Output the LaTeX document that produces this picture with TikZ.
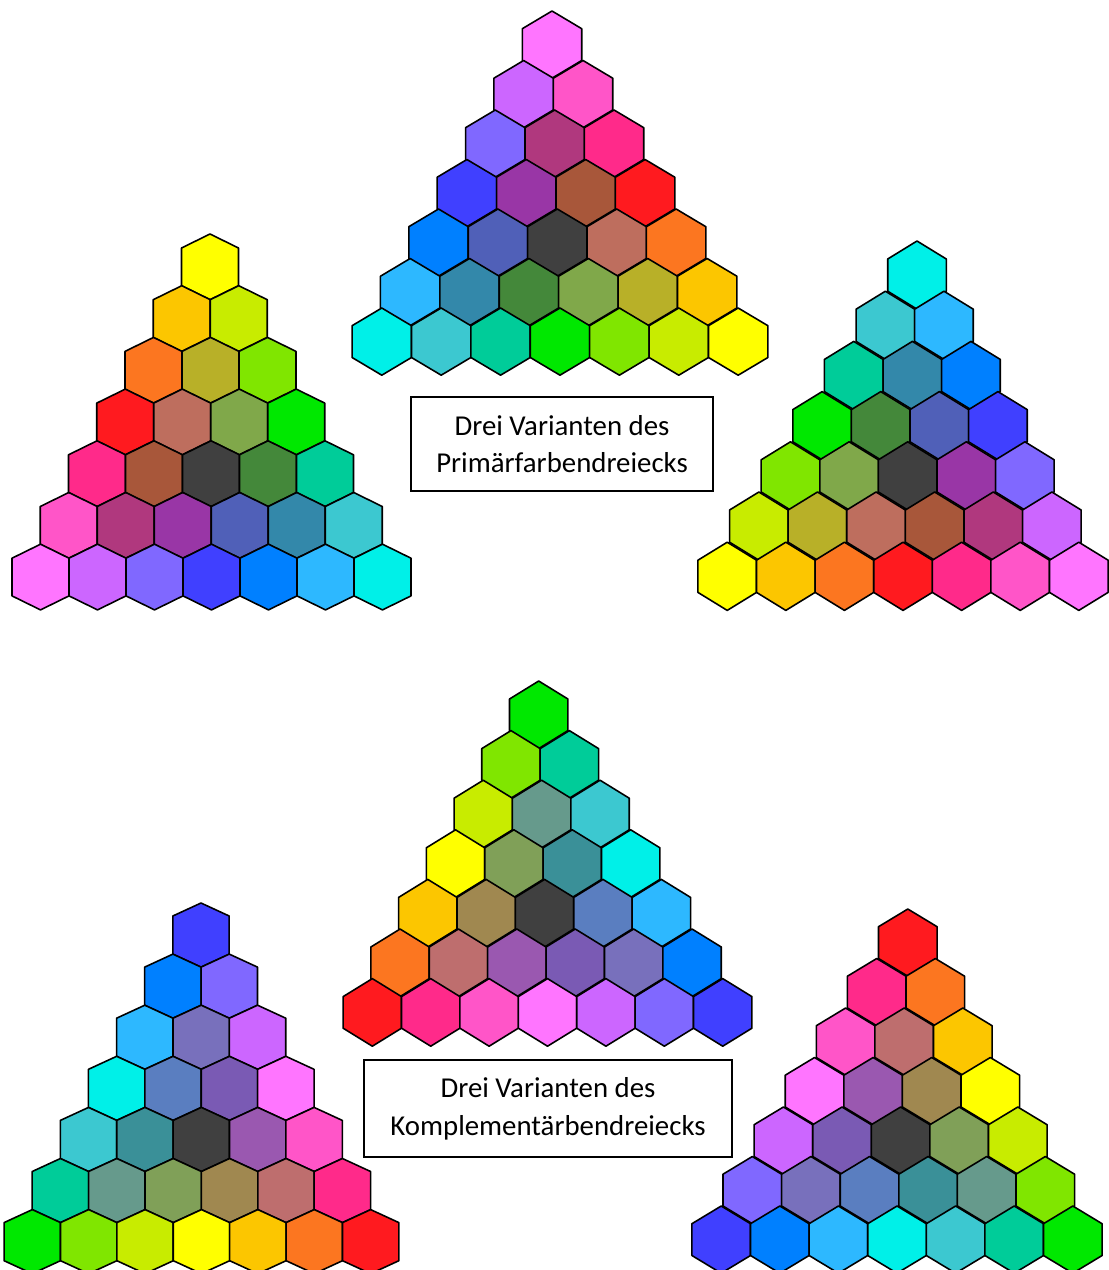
\documentclass[tikz,border=0pt]{standalone}
\usepackage{fontspec}
\setmainfont{Carlito}

% outer ring colours (shared by all triangles)
\definecolor{hMag}{HTML}{FF75FF}
\definecolor{hViol}{HTML}{CC66FF}
\definecolor{hLav}{HTML}{8068FF}
\definecolor{hBlue}{HTML}{4040FF}
\definecolor{hAzure}{HTML}{0080FF}
\definecolor{hSky}{HTML}{2DB8FF}
\definecolor{hCyan}{HTML}{00F0E8}
\definecolor{hTurq}{HTML}{3CC8D0}
\definecolor{hJade}{HTML}{00CC99}
\definecolor{hGreen}{HTML}{00E800}
\definecolor{hLime}{HTML}{80E600}
\definecolor{hYgrn}{HTML}{C8EC00}
\definecolor{hYellow}{HTML}{FFFF00}
\definecolor{hAmber}{HTML}{FCC600}
\definecolor{hOrange}{HTML}{FC7620}
\definecolor{hRed}{HTML}{FF1A1F}
\definecolor{hHot}{HTML}{FF2A8A}
\definecolor{hPink}{HTML}{FF55C8}
\definecolor{cGray}{HTML}{404040}
% inner colours, primary triangles
\definecolor{pDmag}{HTML}{B0387E}
\definecolor{pPurp}{HTML}{9936A6}
\definecolor{pBrwn}{HTML}{A8573A}
\definecolor{pSlate}{HTML}{5060B8}
\definecolor{pRosy}{HTML}{BE6E5E}
\definecolor{pTblue}{HTML}{3388AA}
\definecolor{pDgrn}{HTML}{44883A}
\definecolor{pOgrn}{HTML}{80A84A}
\definecolor{pOliv}{HTML}{B8B028}
% inner colours, complementary triangles
\definecolor{kGtea}{HTML}{669A8C}
\definecolor{kOgrn}{HTML}{80A058}
\definecolor{kTeal}{HTML}{3A9098}
\definecolor{kKhaki}{HTML}{A08850}
\definecolor{kSteel}{HTML}{5A7EC0}
\definecolor{kRose}{HTML}{BE6E6E}
\definecolor{kMpur}{HTML}{9A58B0}
\definecolor{kPblue}{HTML}{7A5AB4}
\definecolor{kSlav}{HTML}{7870BC}

\tikzset{
    hexcell/.style={draw=black, line width=0.9pt, line join=round},
    titlebox/.style={draw=black, line width=1.1pt, align=center, inner sep=0pt,
        font=\fontsize{16.4}{21.5}\selectfont},
}

% #1 apex x, #2 shift per row, #3 top y, #4 cell width, #5 row step, #6 cap height, #7 rows
\newcommand{\hextri}[7]{%
    \foreach \hrow [count=\rowno from 0] in {#7} {
        \foreach \hcol [count=\colno from 0] in \hrow {
            \pgfmathsetmacro\hx{#1 + (#2)*\rowno + (\colno - \rowno/2)*(#4)}
            \pgfmathsetmacro\hy{#3 + (#5)*\rowno + ((#5)+(#6))/2}
            \pgfmathsetmacro\ha{(#4)/2}
            \pgfmathsetmacro\hs{((#5)-(#6))/2}
            \pgfmathsetmacro\ht{((#5)+(#6))/2}
            \filldraw[hexcell, fill=\hcol] (\hx,\hy) +(0,-\ht) -- +(\ha,-\hs) -- +(\ha,\hs)
                -- +(0,\ht) -- +(-\ha,\hs) -- +(-\ha,-\hs) -- cycle;
        }
    }
}

\begin{document}
\begin{tikzpicture}[x=0.02cm, y=-0.02cm]
        \useasboundingbox (0,0) rectangle (1108,1270);

        % -----------------------
        % 1. Primary triangle, top
        % -----------------------
        \hextri{552}{1.33}{11}{59.4}{49.5}{17.7}{{hMag},{hViol,hPink},{hLav,pDmag,hHot},
            {hBlue,pPurp,pBrwn,hRed},{hAzure,pSlate,cGray,pRosy,hOrange},
            {hSky,pTblue,pDgrn,pOgrn,pOliv,hAmber},
            {hCyan,hTurq,hJade,hGreen,hLime,hYgrn,hYellow}}

        % -----------------------
        % 2. Primary triangle, left
        % -----------------------
        \hextri{210}{0.25}{234}{57}{51.7}{14}{{hYellow},{hAmber,hYgrn},{hOrange,pOliv,hLime},
            {hRed,pRosy,pOgrn,hGreen},{hHot,pBrwn,cGray,pDgrn,hJade},
            {hPink,pDmag,pPurp,pSlate,pTblue,hTurq},
            {hMag,hViol,hLav,hBlue,hAzure,hSky,hCyan}}

        % -----------------------
        % 3. Primary triangle, right
        % -----------------------
        \hextri{917}{-2.33}{241}{58.6}{50.2}{18}{{hCyan},{hTurq,hSky},{hJade,pTblue,hAzure},
            {hGreen,pDgrn,pSlate,hBlue},{hLime,pOgrn,cGray,pPurp,hLav},
            {hYgrn,pOliv,pRosy,pBrwn,pDmag,hViol},
            {hYellow,hAmber,hOrange,hRed,hHot,hPink,hMag}}

        % -----------------------
        % 4. Complementary triangle, middle
        % -----------------------
        \hextri{538.7}{1.47}{681}{58.4}{49.6}{18}{{hGreen},{hLime,hJade},{hYgrn,kGtea,hTurq},
            {hYellow,kOgrn,kTeal,hCyan},{hAmber,kKhaki,cGray,kSteel,hSky},
            {hOrange,kRose,kMpur,kPblue,kSlav,hAzure},
            {hRed,hHot,hPink,hMag,hViol,hLav,hBlue}}

        % -----------------------
        % 5. Complementary triangle, left
        % -----------------------
        \hextri{201}{0.08}{903}{56.4}{51.1}{13}{{hBlue},{hAzure,hLav},{hSky,kSlav,hViol},
            {hCyan,kSteel,kPblue,hMag},{hTurq,kTeal,cGray,kMpur,hPink},
            {hJade,kGtea,kOgrn,kKhaki,kRose,hHot},
            {hGreen,hLime,hYgrn,hYellow,hAmber,hOrange,hRed}}

        % -----------------------
        % 6. Complementary triangle, right
        % -----------------------
        \hextri{907.8}{-1.8}{909}{58.6}{49.5}{17.7}{{hRed},{hHot,hOrange},{hPink,kRose,hAmber},
            {hMag,kMpur,kKhaki,hYellow},{hViol,kPblue,cGray,kOgrn,hYgrn},
            {hLav,kSlav,kSteel,kTeal,kGtea,hLime},
            {hBlue,hAzure,hSky,hCyan,hTurq,hJade,hGreen}}

        % -----------------------
        % Captions
        % -----------------------
        \node[titlebox, minimum width=6.04cm, minimum height=1.88cm] (primbox) at (562,444)
            {Drei Varianten des\\Primärfarbendreiecks};
        \node[titlebox, minimum width=7.36cm, minimum height=1.94cm] (kompbox) at (548,1108.5)
            {Drei Varianten des\\Komplementärbendreiecks};

\end{tikzpicture}
\end{document}
